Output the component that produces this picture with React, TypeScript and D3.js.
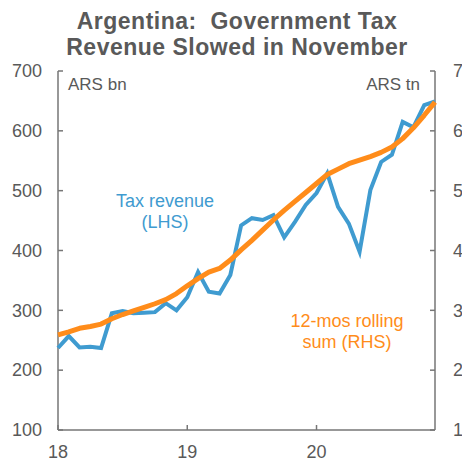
import React from 'react';
import * as d3 from 'd3';

// monthly, Jan 2018 .. Dec 2020
const taxRevenue = [
  237, 257, 238, 239, 237, 295, 299, 295, 296, 297, 312, 300,
  322, 364, 331, 328, 359, 442, 454, 451, 459, 422, 448, 476,
  496, 529, 473, 445, 398, 501, 548, 560, 615, 606, 643, 649,
];
const rollingSum = [
  2.59, 2.64, 2.70, 2.73, 2.77, 2.86, 2.93, 2.99, 3.05, 3.11, 3.18, 3.28,
  3.41, 3.53, 3.64, 3.70, 3.84, 4.01, 4.17, 4.34, 4.51, 4.67, 4.82, 4.97,
  5.12, 5.27, 5.36, 5.45, 5.51, 5.57, 5.64, 5.73, 5.87, 6.05, 6.26, 6.48,
];
const yearLabels = ['18', '19', '20'];
const leftTicks = [100, 200, 300, 400, 500, 600, 700];
const rightTicks = [1, 2, 3, 4, 5, 6, 7];

const W = 462;
const H = 463;
const margin = { left: 58, right: 27, top: 71, bottom: 33 };
const grey = '#595959';
const axisCol = '#767676';
const blue = '#3f9bd0';
const orange = '#ff8c1a';
const font = 'Arial, "Liberation Sans", sans-serif';

export default function App() {
  const x = d3.scaleLinear().domain([0, taxRevenue.length - 1]).range([margin.left, W - margin.right]);
  const yL = d3.scaleLinear().domain([100, 700]).range([H - margin.bottom, margin.top]);
  const yR = d3.scaleLinear().domain([1, 7]).range([H - margin.bottom, margin.top]);

  const blueLine = d3.line<number>().x((_, i) => x(i)).y((d) => yL(d))(taxRevenue) || '';
  const orangeLine = d3.line<number>().x((_, i) => x(i)).y((d) => yR(d))(rollingSum) || '';

  const x0 = margin.left;
  const x1 = W - margin.right;
  const yb = H - margin.bottom;
  const tk = 5;

  return (
    <svg width={W} height={H} style={{ position: 'absolute', left: 0, top: 0, background: '#fff' }} fontFamily={font}>
      <g fontSize={23} fontWeight="bold" fill={grey} textAnchor="middle" letterSpacing={0.5}>
        <text x={237} y={29}>Argentina:{'\u00a0 '}Government Tax</text>
        <text x={237} y={55}>Revenue Slowed in November</text>
      </g>

      {/* axes */}
      <g stroke={axisCol} strokeWidth={1.5} fill="none">
        <line x1={x0} x2={x0} y1={margin.top} y2={yb} />
        <line x1={x1} x2={x1} y1={margin.top} y2={yb} />
        <line x1={x0} x2={x1} y1={yb} y2={yb} />
        {leftTicks.map((t) => (
          <line key={'l' + t} x1={x0} x2={x0 + tk} y1={yL(t)} y2={yL(t)} />
        ))}
        {rightTicks.map((t) => (
          <line key={'r' + t} x1={x1} x2={x1 - tk} y1={yR(t)} y2={yR(t)} />
        ))}
        {yearLabels.map((_, i) => (
          <line key={'x' + i} x1={x(i * 12)} x2={x(i * 12)} y1={yb} y2={yb - tk} />
        ))}
      </g>

      <g fontSize={18} fill={grey}>
        {leftTicks.map((t) => (
          <text key={t} x={42} y={yL(t)} dy="0.35em" textAnchor="end">{t}</text>
        ))}
        {rightTicks.map((t) => (
          <text key={t} x={453} y={yR(t)} dy="0.35em">{t}</text>
        ))}
        {yearLabels.map((l, i) => (
          <text key={l} x={x(i * 12)} y={458} textAnchor="middle">{l}</text>
        ))}
      </g>

      <text x={68} y={90} fontSize={17} fill={grey}>ARS bn</text>
      <text x={420} y={90} fontSize={17} fill={grey} textAnchor="end">ARS tn</text>

      <path d={blueLine} fill="none" stroke={blue} strokeWidth={4} strokeLinejoin="miter" />
      <path d={orangeLine} fill="none" stroke={orange} strokeWidth={5} strokeLinejoin="round" />

      <g fontSize={18} fill={blue} textAnchor="middle">
        <text x={165} y={207}>Tax revenue</text>
        <text x={165} y={228}>(LHS)</text>
      </g>
      <g fontSize={18} fill={orange} textAnchor="middle">
        <text x={347} y={327}>12-mos rolling</text>
        <text x={347} y={348}>sum (RHS)</text>
      </g>
    </svg>
  );
}
